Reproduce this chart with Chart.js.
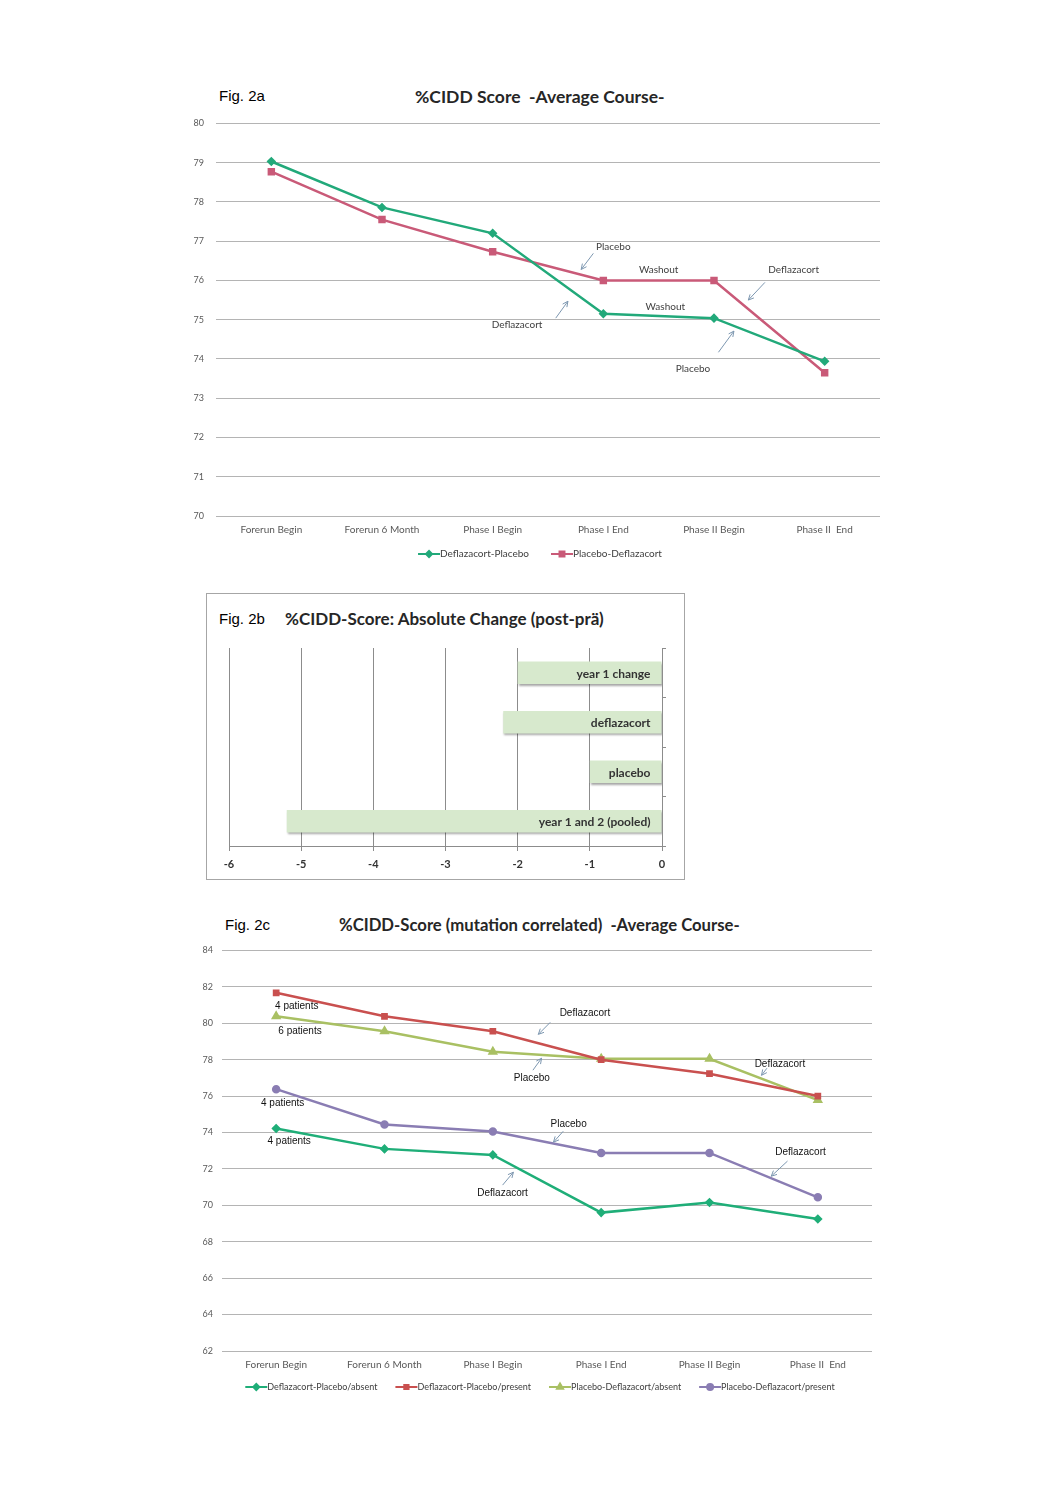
<!DOCTYPE html>
<html>
<head>
<meta charset="utf-8">
<title>%CIDD Score figures</title>
<script src="https://cdn.jsdelivr.net/npm/chart.js@4.4.1/dist/chart.umd.min.js"></script>
<style>
    body { margin: 0; background: #fff; }
    #page { position: relative; width: 1050px; height: 1486px; overflow: hidden; }
    .fig { position: absolute; font-family: "Liberation Sans", Arial, sans-serif; font-size: 15px; color: #000; }
    .ttl { position: absolute; font-family: Lato, "Open Sans", sans-serif; font-weight: bold; font-size: 17px; color: #262626; white-space: pre; }
    .box { position: absolute; border: 1.5px solid #a6a6a6; box-sizing: border-box; }
    canvas { position: absolute; }
</style>
</head>
<body>
<div id="page">
    <div class="fig" style="left:219px;top:87px;">Fig. 2a</div>
    <div class="ttl" style="left:415px;top:86px;font-size:17.5px;">%CIDD Score  -Average Course-</div>
    <canvas id="chart2a" width="720" height="474" style="left:180px;top:106px;"></canvas>

    <div class="box" style="left:206px;top:593px;width:479px;height:287px;"></div>
    <div class="fig" style="left:219px;top:610px;">Fig. 2b</div>
    <div class="ttl" style="left:285px;top:608px;">%CIDD-Score: Absolute Change (post-prä)</div>
    <canvas id="chart2b" width="476" height="238" style="left:207px;top:640px;"></canvas>

    <div class="fig" style="left:225px;top:916px;">Fig. 2c</div>
    <div class="ttl" style="left:339px;top:915px;font-size:16.7px;">%CIDD-Score (mutation correlated)  -Average Course-</div>
    <canvas id="chart2c" width="700" height="474" style="left:190px;top:936px;"></canvas>
</div>

<script>
// ---- data: Fig. 2a ----
const categories = ['Forerun Begin', 'Forerun 6 Month', 'Phase I Begin', 'Phase I End', 'Phase II Begin', 'Phase II  End'];
const deflazacortPlacebo = [79.03, 77.86, 77.2, 75.15, 75.04, 73.94];
const placeboDeflazacort = [78.77, 77.55, 76.73, 76.0, 76.0, 73.65];

// ---- data: Fig. 2b ----
const changeLabels = ['year 1 change', 'deflazacort', 'placebo', 'year 1 and 2 (pooled)'];
const changeValues = [-2.0, -2.2, -1.0, -5.2];

// ---- data: Fig. 2c ----
const dpAbsent = [74.22, 73.1, 72.77, 69.6, 70.16, 69.25];
const dpPresent = [81.67, 80.38, 79.56, 78.0, 77.23, 76.0];
const pdAbsent = [80.38, 79.56, 78.44, 78.05, 78.05, 75.78];
const pdPresent = [76.38, 74.44, 74.05, 72.88, 72.88, 70.44];

// annotations, in data coordinates (category index, score)
const notes2a = [
    { text: 'Placebo', x: 3.09, y: 76.87 },
    { text: 'Washout', x: 3.5, y: 76.26 },
    { text: 'Deflazacort', x: 4.72, y: 76.26 },
    { text: 'Washout', x: 3.56, y: 75.32 },
    { text: 'Deflazacort', x: 2.22, y: 74.86 },
    { text: 'Placebo', x: 3.81, y: 73.74 }
];
const arrows2a = [
    [2.91, 76.69, 2.80, 76.28],
    [4.46, 75.95, 4.31, 75.50],
    [2.57, 75.04, 2.68, 75.47],
    [4.04, 74.17, 4.18, 74.71]
];
const notes2c = [
    { text: '4 patients', x: 0.19, y: 80.93 },
    { text: '6 patients', x: 0.22, y: 79.56 },
    { text: 'Deflazacort', x: 2.85, y: 80.54 },
    { text: 'Placebo', x: 2.36, y: 76.98 },
    { text: 'Deflazacort', x: 4.65, y: 77.75 },
    { text: '4 patients', x: 0.06, y: 75.6 },
    { text: 'Placebo', x: 2.70, y: 74.46 },
    { text: 'Deflazacort', x: 4.84, y: 72.92 },
    { text: '4 patients', x: 0.12, y: 73.52 },
    { text: 'Deflazacort', x: 2.09, y: 70.67 }
];
const arrows2c = [
    [2.53, 80.05, 2.42, 79.39],
    [2.37, 77.42, 2.45, 78.08],
    [4.53, 77.53, 4.48, 77.14],
    [2.65, 74.07, 2.56, 73.47],
    [4.72, 72.43, 4.57, 71.6],
    [2.09, 71.11, 2.19, 71.82]
];

const FONT = 'Lato, "Open Sans", sans-serif';

// text labels + small arrows drawn through the chart's own scales
function makeNotes(texts, arrows, font, color) {
    return {
        id: 'notes',
        afterDatasetsDraw(chart) {
            const ctx = chart.ctx;
            const x = chart.scales.x, y = chart.scales.y;
            ctx.save();
            ctx.font = font;
            ctx.fillStyle = color;
            ctx.textAlign = 'center';
            ctx.textBaseline = 'middle';
            texts.forEach(n => ctx.fillText(n.text, x.getPixelForValue(n.x), y.getPixelForValue(n.y)));
            ctx.strokeStyle = '#7d97b0';
            ctx.lineWidth = 1;
            arrows.forEach(a => {
                const x1 = x.getPixelForValue(a[0]), y1 = y.getPixelForValue(a[1]);
                const x2 = x.getPixelForValue(a[2]), y2 = y.getPixelForValue(a[3]);
                const ang = Math.atan2(y2 - y1, x2 - x1);
                ctx.beginPath();
                ctx.moveTo(x1, y1);
                ctx.lineTo(x2, y2);
                ctx.moveTo(x2 - 6 * Math.cos(ang - 0.45), y2 - 6 * Math.sin(ang - 0.45));
                ctx.lineTo(x2, y2);
                ctx.lineTo(x2 - 6 * Math.cos(ang + 0.45), y2 - 6 * Math.sin(ang + 0.45));
                ctx.stroke();
            });
            ctx.restore();
        }
    };
}

// Excel-like legend: short line with the marker in the middle, then the name
function makeLegend(offsetY, font, gap) {
    return {
        id: 'xlLegend',
        afterDraw(chart) {
            const ctx = chart.ctx;
            const sets = chart.data.datasets;
            ctx.save();
            ctx.font = font;
            const lineLen = 22;
            const widths = sets.map(d => lineLen + ctx.measureText(d.label).width);
            const total = widths.reduce((s, w) => s + w, 0) + gap * (sets.length - 1);
            let cx = chart.width / 2 - total / 2;
            const cy = chart.chartArea.bottom + offsetY;
            sets.forEach((d, i) => {
                ctx.strokeStyle = d.borderColor;
                ctx.lineWidth = 2;
                ctx.beginPath();
                ctx.moveTo(cx, cy);
                ctx.lineTo(cx + lineLen, cy);
                ctx.stroke();
                ctx.fillStyle = d.pointBackgroundColor;
                Chart.helpers.drawPoint(ctx, {
                    pointStyle: d.pointStyle, radius: d.pointRadius, rotation: 0, borderWidth: 1
                }, cx + lineLen / 2, cy);
                ctx.fillStyle = '#404040';
                ctx.textAlign = 'left';
                ctx.textBaseline = 'middle';
                ctx.fillText(d.label, cx + lineLen, cy);
                cx += widths[i] + gap;
            });
            ctx.restore();
        }
    };
}

function lineSet(label, data, color, style, r) {
    return {
        label: label,
        data: data,
        borderColor: color,
        backgroundColor: color,
        pointBackgroundColor: color,
        pointBorderColor: color,
        pointStyle: style,
        pointRadius: r,
        borderWidth: 2.5,
        tension: 0
    };
}

function lineOptions(yMin, yMax, step, yWidth, xHeight, pad, tickPad) {
    return {
        responsive: false,
        animation: false,
        layout: { padding: pad },
        plugins: { legend: { display: false }, tooltip: { enabled: false } },
        scales: {
            x: {
                offset: true,
                grid: { display: false },
                border: { display: false },
                ticks: { font: { family: FONT, size: 10 }, color: '#595959', padding: 0, maxRotation: 0 },
                afterFit: s => { s.height = xHeight; }
            },
            y: {
                min: yMin, max: yMax,
                grid: { color: '#b4b4b4', lineWidth: 1, drawTicks: false },
                border: { display: false },
                ticks: { stepSize: step, font: { family: FONT, size: 9 }, color: '#595959', padding: tickPad },
                afterFit: s => { s.width = yWidth; }
            }
        }
    };
}

// ---- Fig. 2a ----
new Chart(document.getElementById('chart2a').getContext('2d'), {
    type: 'line',
    data: {
        labels: categories,
        datasets: [
            lineSet('Deflazacort-Placebo', deflazacortPlacebo, '#22a97a', 'rectRot', 3),
            lineSet('Placebo-Deflazacort', placeboDeflazacort, '#c95a78', 'rect', 3.5)
        ]
    },
    options: lineOptions(70, 80, 1, 36, 64, { top: 9, right: 20, left: 0, bottom: 0 }, 12),
    plugins: [
        makeNotes(notes2a, arrows2a, '10px ' + FONT, '#404040'),
        makeLegend(38, '10px ' + FONT, 22)
    ]
});

// ---- Fig. 2b ----
new Chart(document.getElementById('chart2b').getContext('2d'), {
    type: 'bar',
    data: {
        labels: changeLabels,
        datasets: [{
            label: 'absolute change',
            data: changeValues,
            backgroundColor: '#d7e9cd',
            borderWidth: 0,
            barPercentage: 0.45,
            categoryPercentage: 1
        }]
    },
    options: {
        indexAxis: 'y',
        responsive: false,
        animation: false,
        layout: { padding: { top: 8, left: 22, right: 0, bottom: 0 } },
        plugins: { legend: { display: false }, tooltip: { enabled: false } },
        scales: {
            x: {
                min: -6, max: 0,
                grid: { color: '#8c8c8c', lineWidth: 1, drawTicks: true, tickLength: 5 },
                border: { color: '#8c8c8c' },
                ticks: { stepSize: 1, font: { family: FONT, size: 11, weight: 'bold' }, color: '#333', padding: 7 },
                afterFit: s => { s.height = 32; }
            },
            y: {
                position: 'right',
                offset: true,
                grid: { drawOnChartArea: false, drawTicks: true, tickLength: 4, offset: true, color: '#8c8c8c' },
                border: { color: '#8c8c8c' },
                ticks: { display: false },
                afterFit: s => { s.width = 21; }
            }
        }
    },
    plugins: [{
        id: 'barLook',
        beforeDatasetsDraw(chart) {
            const ctx = chart.ctx;
            ctx.save();
            ctx.shadowColor = 'rgba(0,0,0,0.35)';
            ctx.shadowOffsetX = 1;
            ctx.shadowOffsetY = 2;
            ctx.shadowBlur = 2;
        },
        afterDatasetsDraw(chart) {
            const ctx = chart.ctx;
            ctx.restore();
            ctx.save();
            ctx.font = 'bold 12px ' + FONT;
            ctx.fillStyle = '#333';
            ctx.textAlign = 'right';
            ctx.textBaseline = 'middle';
            chart.getDatasetMeta(0).data.forEach((bar, i) => {
                ctx.fillText(chart.data.labels[i], bar.base - 11, bar.y + 1);
            });
            ctx.restore();
        }
    }]
});

// ---- Fig. 2c ----
new Chart(document.getElementById('chart2c').getContext('2d'), {
    type: 'line',
    data: {
        labels: categories,
        datasets: [
            lineSet('Deflazacort-Placebo/absent', dpAbsent, '#1fae78', 'rectRot', 3),
            lineSet('Deflazacort-Placebo/present', dpPresent, '#c9504f', 'rect', 3),
            lineSet('Placebo-Deflazacort/absent', pdAbsent, '#a9c063', 'triangle', 3.5),
            lineSet('Placebo-Deflazacort/present', pdPresent, '#8a7db3', 'circle', 3)
        ]
    },
    options: lineOptions(62, 84, 2, 32, 59, { top: 6, right: 18, left: 0, bottom: 0 }, 9),
    plugins: [
        makeNotes(notes2c, arrows2c, '10px "Liberation Sans", Arial, sans-serif', '#111'),
        makeLegend(36, '9px ' + FONT, 18)
    ]
});
</script>
</body>
</html>
